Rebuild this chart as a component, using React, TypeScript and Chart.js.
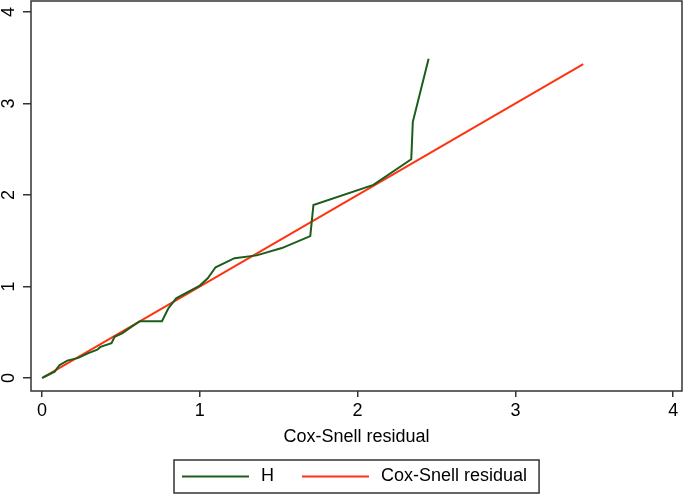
import React, { useEffect, useRef } from "react";
import { Chart, registerables } from "chart.js";

Chart.register(...registerables);

// Nelson-Aalen cumulative hazard (H) against Cox-Snell residual
const hX = [0.0, 0.08, 0.11, 0.16, 0.23, 0.29, 0.35, 0.37, 0.44, 0.46, 0.51, 0.55, 0.62, 0.76, 0.8, 0.85, 1.0, 1.05, 1.1, 1.22, 1.36, 1.52, 1.7, 1.72, 2.1, 2.34, 2.35, 2.45];
const hY = [0.0, 0.07, 0.14, 0.19, 0.22, 0.27, 0.31, 0.34, 0.38, 0.45, 0.49, 0.54, 0.62, 0.62, 0.76, 0.87, 1.01, 1.09, 1.21, 1.31, 1.34, 1.42, 1.55, 1.89, 2.11, 2.39, 2.8, 3.49];

// Reference line: Cox-Snell residual against itself
const refX = [0.01, 3.43];
const refY = [0.01, 3.43];

const xTicks = [0, 1, 2, 3, 4];
const yTicks = [0, 1, 2, 3, 4];
const seriesLabels = ["H", "Cox-Snell residual"];
const xTitle = "Cox-Snell residual";

const GREEN = "#1b5e1b";
const RED = "#ff3311";
const FONT = "'Liberation Sans', Arial, sans-serif";
const FS = 18;
const AXIS = "#333333";

const framePlugin = {
  id: "frame",
  afterDraw(chart: any) {
    const { ctx, chartArea } = chart;
    ctx.save();
    ctx.strokeStyle = AXIS;
    ctx.lineWidth = 1.5;
    ctx.strokeRect(chartArea.left, chartArea.top, chartArea.right - chartArea.left, chartArea.bottom - chartArea.top);
    ctx.restore();
  },
};

const boxLegendPlugin = {
  id: "boxLegend",
  afterDraw(chart: any) {
    const { ctx, chartArea, height } = chart;
    const ds = chart.data.datasets;
    ctx.save();
    ctx.font = `${FS}px ${FONT}`;
    ctx.textBaseline = "middle";
    ctx.textAlign = "left";
    const lineLen = 67;
    const padL = 8;
    const padR = 12;
    const gapText = 12;
    const gapItem = 28;
    const widths = ds.map((d: any) => ctx.measureText(d.label).width);
    let total = padL + padR;
    ds.forEach((_: any, i: number) => {
      total += lineLen + gapText + widths[i];
      if (i < ds.length - 1) total += gapItem;
    });
    const cx = (chartArea.left + chartArea.right) / 2;
    const left = Math.round(cx - total / 2);
    const top = height - 35;
    const boxH = 33;
    const cy = top + boxH / 2;
    ctx.strokeStyle = AXIS;
    ctx.lineWidth = 1.5;
    ctx.strokeRect(left, top, total, boxH);
    let x = left + padL;
    ds.forEach((d: any, i: number) => {
      ctx.strokeStyle = d.borderColor;
      ctx.lineWidth = 2;
      ctx.beginPath();
      ctx.moveTo(x, cy);
      ctx.lineTo(x + lineLen, cy);
      ctx.stroke();
      x += lineLen + gapText;
      ctx.fillStyle = "#000";
      ctx.fillText(d.label, x, cy);
      x += widths[i] + gapItem;
    });
    ctx.restore();
  },
};

export default function App() {
  const ref = useRef<HTMLCanvasElement | null>(null);
  useEffect(() => {
    if (!ref.current) return;
    const chart = new Chart(ref.current, {
      type: "line",
      data: {
        datasets: [
          {
            label: seriesLabels[0],
            data: hX.map((x, i) => ({ x, y: hY[i] })),
            borderColor: GREEN,
            backgroundColor: GREEN,
            borderWidth: 2,
            pointRadius: 0,
            tension: 0,
            fill: false,
          },
          {
            label: seriesLabels[1],
            data: refX.map((x, i) => ({ x, y: refY[i] })),
            borderColor: RED,
            backgroundColor: RED,
            borderWidth: 2,
            pointRadius: 0,
            tension: 0,
            fill: false,
          },
        ],
      },
      options: {
        responsive: false,
        animation: false,
        devicePixelRatio: 1,
        layout: { padding: { top: 1, right: 3, bottom: 45, left: 0 } },
        plugins: {
          legend: { display: false },
          tooltip: { enabled: false },
        },
        scales: {
          x: {
            type: "linear",
            min: -0.07,
            max: 4.056,
            afterBuildTicks: (s: any) => {
              s.ticks = xTicks.map((v) => ({ value: v }));
            },
            afterFit: (s: any) => {
              s.height = 59;
              s.paddingLeft = 0;
              s.paddingRight = 0;
            },
            grid: { drawOnChartArea: false, drawTicks: true, tickLength: 6, color: AXIS, lineWidth: 1.5 },
            border: { display: false },
            ticks: {
              padding: 3,
              color: "#000",
              font: { family: FONT, size: FS },
              maxRotation: 0,
              autoSkip: false,
            },
            title: {
              display: true,
              text: xTitle,
              color: "#000",
              font: { family: FONT, size: FS },
              padding: { top: 0, bottom: 2 },
            },
          },
          y: {
            type: "linear",
            min: -0.142,
            max: 4.12,
            afterBuildTicks: (s: any) => {
              s.ticks = yTicks.map((v) => ({ value: v }));
            },
            afterFit: (s: any) => {
              s.width = 31;
              s.paddingTop = 0;
              s.paddingBottom = 0;
            },
            grid: { drawOnChartArea: false, drawTicks: true, tickLength: 8, color: AXIS, lineWidth: 1.5 },
            border: { display: false },
            ticks: {
              padding: 9,
              color: "#000",
              font: { family: FONT, size: FS },
              minRotation: 90,
              maxRotation: 90,
              crossAlign: "center",
              autoSkip: false,
            },
          },
        },
      },
      plugins: [framePlugin, boxLegendPlugin],
    } as any);
    return () => chart.destroy();
  }, []);
  return (
    <div style={{ position: "absolute", left: 0, top: 0, width: 685, height: 495, background: "#fff" }}>
      <canvas ref={ref} width={685} height={495} style={{ display: "block" }} />
    </div>
  );
}
